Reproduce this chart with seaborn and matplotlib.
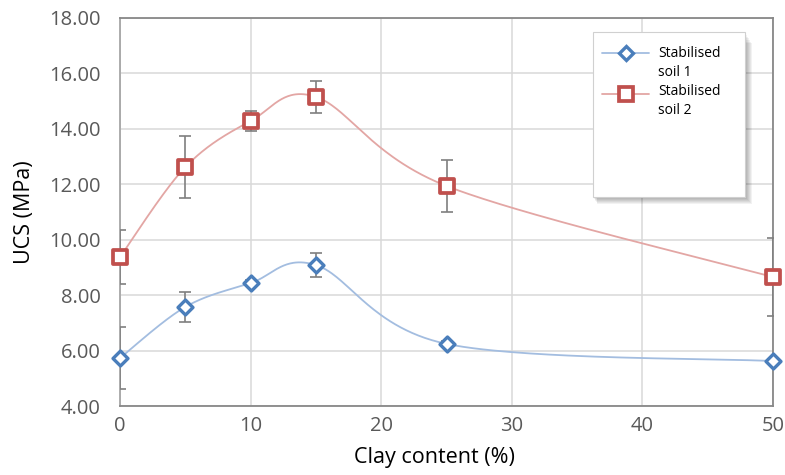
import numpy as np
import pandas as pd
import matplotlib
matplotlib.use("Agg")
import matplotlib.pyplot as plt
import seaborn as sns
from matplotlib.patches import Rectangle
from matplotlib.lines import Line2D

# Unconfined compressive strength vs clay content
clay = [0, 5, 10, 15, 25, 50]
soil1 = [5.74, 7.58, 8.44, 9.09, 6.25, 5.63]
soil1_err = [1.10, 0.54, 0.12, 0.42, 0.10, 0.08]
soil2 = [9.38, 12.62, 14.28, 15.15, 11.94, 8.66]
soil2_err = [0.98, 1.12, 0.36, 0.58, 0.94, 1.42]
series_names = ["Stabilised soil 1", "Stabilised soil 2"]
x_ticks = [0, 10, 20, 30, 40, 50]
y_ticks = [4, 6, 8, 10, 12, 14, 16, 18]

BLUE = "#4a7ebb"
BLUE_LINE = "#a3bde0"
RED = "#c0504d"
RED_LINE = "#e3a6a4"
ERR = "#7f7f7f"
GRID = "#d9d9d9"
TICK = "#595959"


def smooth(xs, ys, n=60):
    """Spreadsheet-style smoothed line: Catmull-Rom Bezier through the points."""
    p = np.column_stack([xs, ys]).astype(float)
    ext = np.vstack([p[0], p, p[-1]])
    t = np.linspace(0, 1, n)[:, None]
    parts = []
    for i in range(len(p) - 1):
        p0, p1, p2, p3 = ext[i], ext[i + 1], ext[i + 2], ext[i + 3]
        c1 = p1 + (p2 - p0) / 6.0
        c2 = p2 - (p3 - p1) / 6.0
        seg = (1 - t) ** 3 * p1 + 3 * (1 - t) ** 2 * t * c1 + 3 * (1 - t) * t ** 2 * c2 + t ** 3 * p2
        parts.append(seg if i == 0 else seg[1:])
    return np.vstack(parts)


sns.set_theme(style="whitegrid")
plt.rcParams["font.family"] = ["Open Sans", "DejaVu Sans"]

fig = plt.figure(figsize=(7.85, 4.75), dpi=100)
ax = fig.add_axes([120 / 785, 1 - 406.3 / 475, 653 / 785, 388.5 / 475])

curves = []
for name, vals in zip(series_names, [soil1, soil2]):
    c = smooth(clay, vals)
    curves.append(pd.DataFrame({"clay": c[:, 0], "ucs": c[:, 1], "series": name}))
curve_df = pd.concat(curves, ignore_index=True)

sns.lineplot(data=curve_df, x="clay", y="ucs", hue="series", sort=False, estimator=None,
             palette={series_names[0]: BLUE_LINE, series_names[1]: RED_LINE},
             linewidth=1.3, legend=False, ax=ax, zorder=2)

for vals, err in [(soil1, soil1_err), (soil2, soil2_err)]:
    ax.errorbar(clay, vals, yerr=err, fmt="none", ecolor=ERR, elinewidth=1.2,
                capsize=4, capthick=1.2, zorder=3)

sns.scatterplot(x=clay, y=soil1, marker="D", s=58, color="white", edgecolor=BLUE,
                linewidth=2.4, ax=ax, zorder=5, clip_on=False)
sns.scatterplot(x=clay, y=soil2, marker="s", s=92, color="white", edgecolor=RED,
                linewidth=2.7, ax=ax, zorder=5, clip_on=False)

ax.set_xlim(0, 50)
ax.set_ylim(4, 18)
ax.set_xticks(x_ticks)
ax.set_xticklabels([str(v) for v in x_ticks])
ax.set_yticks(y_ticks)
ax.set_yticklabels([f"{v:.2f}" for v in y_ticks])
ax.grid(True, color=GRID, linewidth=1.1)
ax.set_axisbelow(True)
ax.tick_params(axis="both", length=0, labelsize=14.5, labelcolor=TICK)
ax.tick_params(axis="y", pad=14)
ax.tick_params(axis="x", pad=7)
for side, sp in ax.spines.items():
    sp.set_visible(True)
    sp.set_color("#888888")
    sp.set_linewidth(1.3)
ax.spines["left"].set_color("#a6a6a6")

ax.set_xlabel("Clay content (%)", fontsize=15.5, color="black")
ax.xaxis.set_label_coords((434.5 - 120) / 653, -0.104)
ax.set_ylabel("UCS (MPa)", fontsize=15.5, color="black", labelpad=10)


# Legend panel with a soft drop shadow
def px(xp, yp):
    return ((xp - 120) / 653, (406.3 - yp) / 388.5)


bx0, by1 = px(593, 32)
bx1, by0 = px(745, 197)
for k in range(7, 0, -1):
    dx = k / 653
    dy = k / 388.5
    ax.add_patch(Rectangle((bx0 + dx * 0.6, by0 - dy), bx1 - bx0 + dx * 0.4, by1 - by0 - dy * 0.6,
                           transform=ax.transAxes, facecolor="black", alpha=0.05,
                           edgecolor="none", zorder=6, clip_on=False))
ax.add_patch(Rectangle((bx0, by0), bx1 - bx0, by1 - by0, transform=ax.transAxes,
                       facecolor="white", edgecolor="#d0d0d0", linewidth=0.8, zorder=7,
                       clip_on=False))

entries = [
    (BLUE_LINE, BLUE, "D", 7.3, 2.4, 53.5, ["Stabilised", "soil 1"], [53.5, 72.5]),
    (RED_LINE, RED, "s", 9.6, 2.7, 94.3, ["Stabilised", "soil 2"], [91.5, 110.5]),
]
for lcol, mcol, mk, ms, mew, hy, words, ty in entries:
    xa, ya = px(602, hy)
    xb, _ = px(649, hy)
    xm, _ = px(625.5, hy)
    ax.add_line(Line2D([xa, xb], [ya, ya], transform=ax.transAxes, color=lcol,
                       linewidth=1.3, zorder=8, clip_on=False))
    ax.add_line(Line2D([xm], [ya], transform=ax.transAxes, marker=mk, markersize=ms,
                       markerfacecolor="white", markeredgecolor=mcol, markeredgewidth=mew,
                       linestyle="none", zorder=9, clip_on=False))
    for w, yy in zip(words, ty):
        tx, tyy = px(658, yy)
        ax.text(tx, tyy, w, transform=ax.transAxes, fontsize=10, color="black",
                va="center", ha="left", zorder=9)

fig.savefig("out.png", dpi=100)
